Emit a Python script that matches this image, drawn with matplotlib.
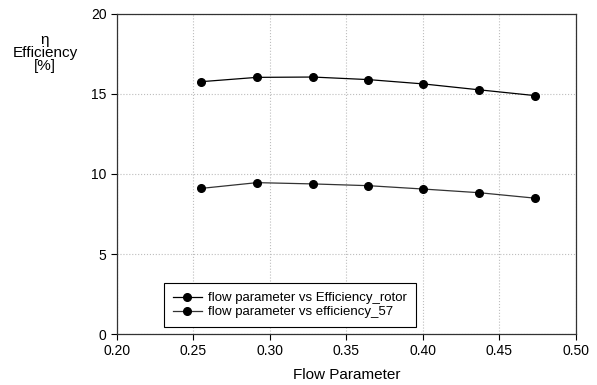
import matplotlib
matplotlib.use("Agg")
from matplotlib import pyplot as plt

plt.rcParams["font.family"] = ["Liberation Sans", "DejaVu Sans"]

flow = [0.255, 0.2915, 0.328, 0.3643, 0.4002, 0.4368, 0.4732]
eff_rotor = [15.77, 16.04, 16.06, 15.9, 15.63, 15.26, 14.9]
eff_57 = [9.1, 9.46, 9.38, 9.27, 9.06, 8.83, 8.49]

fig = plt.figure(figsize=(5.97, 3.85), dpi=100)
ax = fig.add_axes([117 / 597, 1 - 334 / 385, (576 - 117) / 597, (334 - 14) / 385])

ax.plot(flow, eff_rotor, color="black", lw=0.9, marker="o", ms=5.5,
        label="flow parameter vs Efficiency_rotor")
ax.plot(flow, eff_57, color="#333333", lw=0.9, marker="o", ms=5.5,
        mfc="black", mec="black", label="flow parameter vs efficiency_57")

ax.set_xlim(0.20, 0.50)
ax.set_ylim(0, 20)
ax.set_xticks([0.20, 0.25, 0.30, 0.35, 0.40, 0.45, 0.50])
ax.set_xticklabels(["0.20", "0.25", "0.30", "0.35", "0.40", "0.45", "0.50"])
ax.set_yticks([0, 5, 10, 15, 20])
ax.tick_params(labelsize=10, direction="out", length=4, width=0.8)
ax.grid(True, linestyle=":", color="#bdbdbd", linewidth=0.8)
for s in ax.spines.values():
    s.set_linewidth(0.9)
    s.set_color("#333333")

ax.set_xlabel("Flow Parameter", fontsize=11, va="center")
ax.xaxis.set_label_coords(0.5, (334 - 375) / 320)
fig.text(45 / 597, 1 - 53 / 385, "\u03b7\nEfficiency\n[%]", ha="center", va="center",
         fontsize=11, linespacing=0.9)

leg = ax.legend(loc="lower left", bbox_to_anchor=(47 / 459, 7 / 320),
                borderaxespad=0, fontsize=9.5, frameon=True, fancybox=False,
                edgecolor="black", framealpha=1, handlelength=2.25,
                handletextpad=0.47, borderpad=0.65, labelspacing=0.15)
leg.get_frame().set_linewidth(0.8)

fig.savefig("out.png", dpi=100)
